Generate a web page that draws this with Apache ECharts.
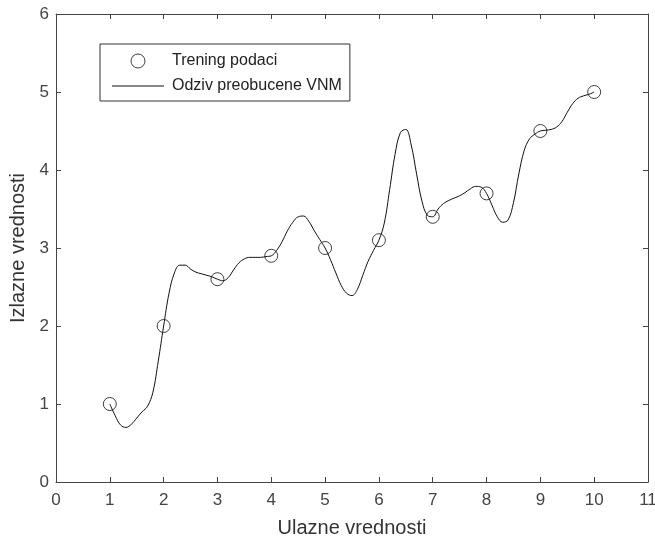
<!DOCTYPE html>
<html>
<head>
<meta charset="utf-8">
<script src="https://cdn.jsdelivr.net/npm/echarts@6/dist/echarts.min.js"></script>
<style>
  html, body { margin: 0; padding: 0; background: #fff; }
  #chart { width: 655px; height: 540px; }
</style>
</head>
<body>
<div id="chart"></div>
<script>
// training samples (circles)
const trainX = [1, 2, 3, 4, 5, 6, 7, 8, 9, 10];
const trainY = [1.0, 2.0, 2.6, 2.9, 3.0, 3.1, 3.4, 3.7, 4.5, 5.0];

// network response, every 0.1
const curveX = [
  1.0, 1.1, 1.2, 1.3, 1.4, 1.5, 1.6, 1.7, 1.8, 1.9,
  2.0, 2.1, 2.2, 2.3, 2.4, 2.5, 2.6, 2.7, 2.8, 2.9,
  3.0, 3.1, 3.2, 3.3, 3.4, 3.5, 3.6, 3.7, 3.8, 3.9,
  4.0, 4.1, 4.2, 4.3, 4.4, 4.5, 4.6, 4.7, 4.8, 4.9,
  5.0, 5.1, 5.2, 5.3, 5.4, 5.5, 5.6, 5.7, 5.8, 5.9,
  6.0, 6.1, 6.2, 6.3, 6.4, 6.5, 6.6, 6.7, 6.8, 6.9,
  7.0, 7.1, 7.2, 7.3, 7.4, 7.5, 7.6, 7.7, 7.8, 7.9,
  8.0, 8.1, 8.2, 8.3, 8.4, 8.5, 8.6, 8.7, 8.8, 8.9,
  9.0, 9.1, 9.2, 9.3, 9.4, 9.5, 9.6, 9.7, 9.8, 9.9,
  10.0
];
const curveY = [
  1.00, 0.85, 0.73, 0.70, 0.74, 0.82, 0.90, 0.97, 1.15, 1.55,
  2.00, 2.42, 2.68, 2.78, 2.78, 2.73, 2.69, 2.67, 2.65, 2.63,
  2.60, 2.58, 2.62, 2.72, 2.81, 2.86, 2.88, 2.88, 2.88, 2.89,
  2.90, 2.97, 3.08, 3.22, 3.33, 3.40, 3.41, 3.34, 3.22, 3.11,
  3.00, 2.85, 2.68, 2.52, 2.42, 2.39, 2.47, 2.65, 2.83, 2.97,
  3.10, 3.32, 3.75, 4.20, 4.48, 4.52, 4.32, 3.95, 3.60, 3.42,
  3.40, 3.50, 3.57, 3.61, 3.64, 3.67, 3.71, 3.76, 3.79, 3.78,
  3.70, 3.55, 3.40, 3.33, 3.36, 3.58, 3.95, 4.25, 4.40, 4.46,
  4.50, 4.51, 4.52, 4.55, 4.62, 4.74, 4.85, 4.92, 4.95, 4.97,
  5.00
];

const xTitle = 'Ulazne vrednosti';
const yTitle = 'Izlazne vrednosti';
const seriesNames = ['Trening podaci', 'Odziv preobucene VNM'];

const font = "'Liberation Sans', Arial, Helvetica, sans-serif";
const axisColor = '#444';

const chart = echarts.init(document.getElementById('chart'));

// the box around the plot: top and right axes only carry ticks
const boxAxis = {
  axisLine: { show: true, onZero: false, lineStyle: { color: axisColor, width: 1 } },
  axisTick: { show: true, inside: true, length: 5, lineStyle: { color: axisColor } },
  axisLabel: { show: false },
  splitLine: { show: false }
};

chart.setOption({
  animation: false,
  backgroundColor: '#fff',
  textStyle: { fontFamily: font },
  // fixed plot box; v6 would otherwise shrink it to keep the axis names inside
  grid: { left: 56, right: 7, top: 14, bottom: 58, containLabel: false, outerBoundsMode: 'none' },
  legend: {
    orient: 'vertical',
    left: 100,
    top: 44,
    padding: [9, 8, 7, 12],
    itemGap: 9,
    itemWidth: 52,
    itemHeight: 14,
    borderColor: '#333',
    borderWidth: 1,
    textStyle: { fontSize: 16, color: '#222', fontFamily: font, padding: [0, 0, 0, 3] },
    data: [
      { name: seriesNames[0], icon: 'circle', itemStyle: { borderWidth: 1 } },
      { name: seriesNames[1], icon: 'path://M0,0L52,0L52,1L0,1Z' }
    ]
  },
  xAxis: [
    {
      type: 'value', min: 0, max: 11, interval: 1,
      name: xTitle, nameLocation: 'middle', nameGap: 36,
      nameTextStyle: { fontSize: 20, color: '#333', fontFamily: font },
      axisLine: { show: true, onZero: false, lineStyle: { color: axisColor, width: 1 } },
      axisTick: { show: true, inside: true, length: 5, lineStyle: { color: axisColor } },
      axisLabel: { fontSize: 17, color: '#444', margin: 10, fontFamily: font },
      splitLine: { show: false }
    },
    Object.assign({ type: 'value', min: 0, max: 11, interval: 1, position: 'top' }, boxAxis)
  ],
  yAxis: [
    {
      type: 'value', min: 0, max: 6, interval: 1,
      name: yTitle, nameLocation: 'middle', nameGap: 23,
      nameTextStyle: { fontSize: 20, color: '#333', fontFamily: font },
      axisLine: { show: true, onZero: false, lineStyle: { color: axisColor, width: 1 } },
      axisTick: { show: true, inside: true, length: 5, lineStyle: { color: axisColor } },
      axisLabel: { fontSize: 17, color: '#444', margin: 7, fontFamily: font },
      splitLine: { show: false }
    },
    Object.assign({ type: 'value', min: 0, max: 6, interval: 1, position: 'right' }, boxAxis)
  ],
  series: [
    {
      name: seriesNames[0],
      type: 'scatter',
      symbol: 'circle',
      symbolSize: 13,
      itemStyle: { color: 'rgba(0,0,0,0)', borderColor: '#111', borderWidth: 1 },
      data: trainX.map((x, i) => [x, trainY[i]]),
      z: 3
    },
    {
      name: seriesNames[1],
      type: 'line',
      smooth: 0.4,
      symbol: 'none',
      showSymbol: false,
      lineStyle: { color: '#111', width: 1 },
      itemStyle: { color: '#111' },
      data: curveX.map((x, i) => [x, curveY[i]]),
      z: 2
    }
  ]
});
</script>
</body>
</html>
